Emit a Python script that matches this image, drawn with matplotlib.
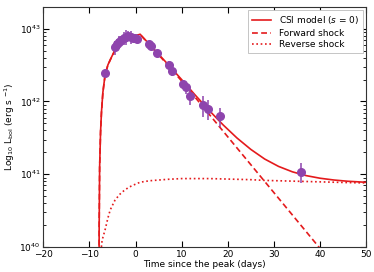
import numpy as np
import matplotlib
matplotlib.use("Agg")
import matplotlib.pyplot as plt

# observed bolometric light curve (L in 1e42 erg/s)
t_obs = [-6.55, -4.4, -4.0, -3.6, -3.1, -2.6, -2.1, -1.6, -1.1, -0.6, -0.1, 0.4,
         3.0, 3.4, 4.73, 7.2, 7.8, 10.2, 10.85, 11.8, 14.7, 15.6, 18.2, 35.8]
L_obs = [2.45, 5.6, 6.2, 6.6, 7.0, 7.4, 7.8, 8.0, 7.7, 7.5, 7.4, 7.2,
         6.1, 5.8, 4.6, 3.2, 2.6, 1.76, 1.58, 1.19, 0.89, 0.80, 0.63, 0.108]
L_err = [0.15, 1.2, 1.0, 1.3, 1.0, 1.5, 1.8, 1.2, 1.5, 1.0, 0.8, 0.6,
         0.5, 0.6, 0.4, 0.35, 0.35, 0.2, 0.3, 0.3, 0.28, 0.25, 0.18, 0.033]

# model components, log10 L
t_model = [-7.95, -7.9, -7.8, -7.6, -7.4, -7.1, -6.6, -6.0, -5.5, -4.5, -3.5, -2.6,
           -1.5, -0.5, 0.98, 3, 5, 7, 10, 13, 16, 19, 22, 25, 28, 31, 34, 37,
           40, 43, 46, 50]
logL_forward = [39.0, 40.3, 41.1, 41.58, 41.85, 42.12, 42.37, 42.50, 42.57, 42.70,
                42.77, 42.82, 42.86, 42.89, 42.92, 42.78, 42.64, 42.50, 42.28,
                42.05, 41.82, 41.59, 41.36, 41.13, 40.90, 40.67, 40.44, 40.21,
                39.98, 39.75, 39.52, 39.2]
logL_reverse = [37.0, 37.0, 37.0, 37.0, 40.04, 40.13, 40.24, 40.40, 40.51, 40.64,
                40.72, 40.77, 40.82, 40.85, 40.89, 40.91, 40.92, 40.93, 40.94,
                40.94, 40.94, 40.935, 40.93, 40.925, 40.915, 40.91, 40.905, 40.90,
                40.895, 40.89, 40.885, 40.88]

L_forward = 10 ** np.array(logL_forward)
L_reverse = 10 ** np.array(logL_reverse)
L_total = L_forward + L_reverse

plt.rcParams["font.size"] = 6.5
plt.rcParams["mathtext.default"] = "regular"

fig = plt.figure(figsize=(3.74, 2.72), dpi=100)
ax = fig.add_axes([0.116, 0.092, 0.863, 0.883])

red = "#e41a1c"
ax.plot(t_model, L_total, color=red, lw=1.2, label="CSI model ($\\it{s}$ = 0)", zorder=3)
ax.plot(t_model, L_forward, color=red, lw=1.2, ls=(0, (3.5, 2)), label="Forward shock", zorder=3)
ax.plot(t_model, L_reverse, color=red, lw=1.2, ls=(0, (1, 1.6)), label="Reverse shock", zorder=3)

ax.errorbar(t_obs, np.array(L_obs) * 1e42, yerr=np.array(L_err) * 1e42, fmt="o",
            color="#8e44ad", ms=5.5, mec="#8e44ad", elinewidth=1.1, capsize=0, zorder=4)

ax.set_yscale("log")
ax.set_xlim(-20, 50)
ax.set_ylim(1e40, 2e43)
ax.set_xticks(range(-20, 51, 10))
ax.set_xlabel("Time since the peak (days)", labelpad=1)
ax.set_ylabel("Log$_{10}$ L$_{bol}$ (erg s $^{-1}$)", labelpad=2)
ax.tick_params(which="both", direction="in", top=True, right=True, pad=2)
ax.tick_params(which="major", length=4)
ax.tick_params(which="minor", length=2)
for s in ax.spines.values():
    s.set_color("#333333")
    s.set_linewidth(0.8)

leg = ax.legend(loc="upper right", fancybox=False, framealpha=1, edgecolor="#bbbbbb",
                borderaxespad=0.4, handlelength=2.2, labelspacing=0.3)
leg.get_frame().set_linewidth(0.6)

fig.savefig("out.png", dpi=100)
